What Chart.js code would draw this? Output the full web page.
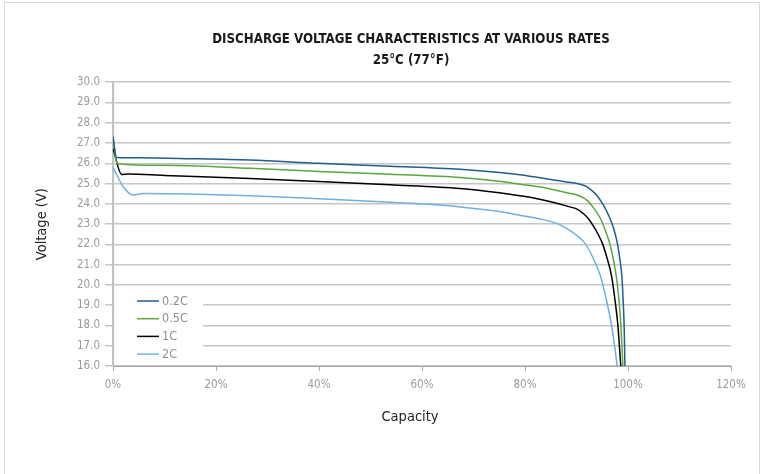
<!DOCTYPE html>
<html>
<head>
<meta charset="utf-8">
<script src="https://cdn.jsdelivr.net/npm/chart.js@4.4.1/dist/chart.umd.min.js"></script>
<style>
html,body{margin:0;padding:0;background:#fff;}
#wrap{width:775px;height:474px;position:relative;}
</style>
</head>
<body>
<div id="wrap"><canvas id="c" width="775" height="474"></canvas></div>
<script>
// ---- Text ----
const titleLines = ['DISCHARGE VOLTAGE CHARACTERISTICS AT VARIOUS RATES', '25°C (77°F)'];
const xAxisTitle = 'Capacity';
const yAxisTitle = 'Voltage (V)';
const seriesLabels = ['0.2C', '0.5C', '1C', '2C'];
const seriesColors = ['#1f5f8e', '#5aa83c', '#000000', '#6eb0e2'];

// ---- Axis ranges / ticks ----
const xMin = 0, xMax = 120, xStep = 20;
const yMin = 16, yMax = 30, yStep = 1;

// ---- Series values (capacity %, voltage V) ----
const cap02  = [0, 0.7, 5, 15, 26.6, 40, 53.8, 67.4, 75, 79, 85, 88, 90.7, 92, 93, 94, 95.2, 96.3, 97.2, 97.9, 98.4, 98.8, 99.1, 99.25, 99.4];
const volt02 = [27.3, 26.29, 26.27, 26.23, 26.16, 26.0, 25.86, 25.71, 25.55, 25.43, 25.2, 25.08, 24.97, 24.85, 24.65, 24.4, 23.95, 23.4, 22.8, 22.1, 21.3, 20.45, 19.0, 18.0, 16.0];

const cap05  = [0, 0.8, 10, 26.6, 40, 53.8, 67.4, 75, 79, 84, 88, 90.5, 92, 93.3, 94.6, 95.6, 96.5, 97.2, 97.8, 98.3, 98.6, 99];
const volt05 = [27.3, 25.98, 25.9, 25.75, 25.6, 25.46, 25.3, 25.12, 24.97, 24.78, 24.55, 24.4, 24.18, 23.8, 23.3, 22.7, 22.0, 21.2, 20.3, 19.1, 18.1, 16.0];

const cap1   = [0, 1.7, 3, 10, 26.6, 40, 53.8, 67.4, 75, 81, 85, 88.7, 90, 91.2, 92.2, 93.3, 94.3, 95.1, 95.9, 96.8, 97.5, 98, 98.6];
const volt1  = [26.73, 25.45, 25.47, 25.4, 25.25, 25.1, 24.94, 24.76, 24.55, 24.32, 24.1, 23.85, 23.75, 23.55, 23.3, 22.9, 22.45, 22.0, 21.35, 20.45, 19.2, 18.1, 16.0];

const cap2   = [0, 2, 3.9, 5.9, 15, 26.6, 40, 53.8, 67.4, 75, 79, 83, 86, 88, 90, 91.5, 92.7, 93.8, 94.7, 95.5, 96.2, 96.8, 97.4, 97.9];
const volt2  = [25.8, 24.84, 24.43, 24.51, 24.48, 24.4, 24.25, 24.08, 23.85, 23.62, 23.44, 23.25, 23.05, 22.8, 22.45, 22.1, 21.6, 21.0, 20.4, 19.6, 18.8, 18.0, 17.0, 16.0];

const capSeries = [cap02, cap05, cap1, cap2];
const voltSeries = [volt02, volt05, volt1, volt2];

const FONT = "'Liberation Sans Narrow','DejaVu Sans Condensed','Roboto',sans-serif";

const datasets = seriesLabels.map((lab, i) => ({
  label: lab,
  data: capSeries[i].map((x, j) => ({x: x, y: voltSeries[i][j]})),
  borderColor: seriesColors[i],
  backgroundColor: seriesColors[i],
  borderWidth: 1.5,
  pointRadius: 0,
  pointHoverRadius: 0,
  fill: false,
  cubicInterpolationMode: 'monotone'
}));

function wrapDraw(obj, key, dx) {
  if (!obj || obj['_wrapped_' + key]) return;
  const orig = obj[key];
  obj[key] = function() {
    const c = this.ctx;
    c.save();
    c.translate(dx, 0);
    const r = orig.apply(this, arguments);
    c.restore();
    return r;
  };
  obj['_wrapped_' + key] = true;
}

const framePlugin = {
  id: 'frame',
  beforeDraw(chart) {
    const ctx = chart.ctx;
    ctx.save();
    ctx.fillStyle = '#ffffff';
    ctx.fillRect(0, 0, chart.width, chart.height);
    ctx.strokeStyle = '#d9d9d9';
    ctx.lineWidth = 1;
    ctx.beginPath();
    ctx.moveTo(4.5, chart.height);
    ctx.lineTo(4.5, 2.5);
    ctx.lineTo(759.5, 2.5);
    ctx.lineTo(759.5, chart.height);
    ctx.stroke();
    ctx.restore();
  }
};

const shiftPlugin = {
  id: 'shift',
  afterLayout(chart) {
    wrapDraw(chart.scales.x, 'drawTitle', -12);
  }
};

const legendPlugin = {
  id: 'innerLegend',
  beforeDatasetsDraw(chart) {
    const ctx = chart.ctx;
    const area = chart.chartArea;
    ctx.save();
    ctx.fillStyle = '#ffffff';
    ctx.fillRect(area.left + 1.5, 291, 203 - area.left - 1.5, 71);
    ctx.font = '12.5px ' + FONT;
    ctx.textBaseline = 'middle';
    ctx.textAlign = 'left';
    chart.data.datasets.forEach((ds, i) => {
      const y = 301 + i * 17.7;
      ctx.strokeStyle = ds.borderColor;
      ctx.lineWidth = 1.5;
      ctx.beginPath();
      ctx.moveTo(137, y);
      ctx.lineTo(159, y);
      ctx.stroke();
      ctx.fillStyle = '#8f8f8f';
      ctx.fillText(ds.label, 162, y + 0.5);
    });
    ctx.restore();
  }
};

new Chart(document.getElementById('c'), {
  type: 'line',
  data: { datasets: datasets },
  plugins: [framePlugin, shiftPlugin, legendPlugin],
  options: {
    responsive: false,
    animation: false,
    layout: { padding: { left: 47, right: 0, top: 0, bottom: 0 } },
    plugins: {
      legend: { display: false },
      tooltip: { enabled: false },
      title: {
        display: true,
        text: titleLines,
        color: '#1a1a1a',
        font: { family: FONT, size: 13.2, weight: 'bold', lineHeight: 1.55 },
        padding: { top: 29.5, bottom: 11.8 }
      }
    },
    scales: {
      x: {
        type: 'linear',
        min: xMin, max: xMax,
        afterFit(scale) { scale.height = 108; },
        ticks: {
          stepSize: xStep,
          color: '#9b9b9b',
          font: { family: FONT, size: 11.5 },
          padding: 7,
          callback: v => v + '%'
        },
        grid: { drawOnChartArea: false, drawTicks: true, tickLength: 5, color: '#a6a6a6', lineWidth: 1 },
        border: { color: '#a6a6a6', width: 1 },
        title: {
          display: true, text: xAxisTitle, color: '#222222',
          font: { family: FONT, size: 14.5, lineHeight: 1.2 },
          padding: { top: 0, bottom: 48 }
        }
      },
      y: {
        min: yMin, max: yMax,
        afterFit(scale) { scale.width = 66; },
        ticks: {
          stepSize: yStep,
          color: '#9b9b9b',
          font: { family: FONT, size: 11.5 },
          padding: 5,
          callback: v => Number(v).toFixed(1)
        },
        grid: { color: '#c6c6c6', lineWidth: 1.5, drawTicks: true, tickLength: 8 },
        border: { color: '#c2c2c2', width: 2.2 },
        title: {
          display: true, text: yAxisTitle, color: '#222222',
          font: { family: FONT, size: 14.5, lineHeight: 1.2 },
          padding: { top: -13.7, bottom: 0 }
        }
      },
      ySpacer: {
        position: 'right',
        min: yMin, max: yMax,
        afterFit(scale) { scale.width = 44; },
        ticks: { display: false },
        grid: { display: false, drawTicks: false },
        border: { display: false }
      }
    }
  }
});
</script>
</body>
</html>
